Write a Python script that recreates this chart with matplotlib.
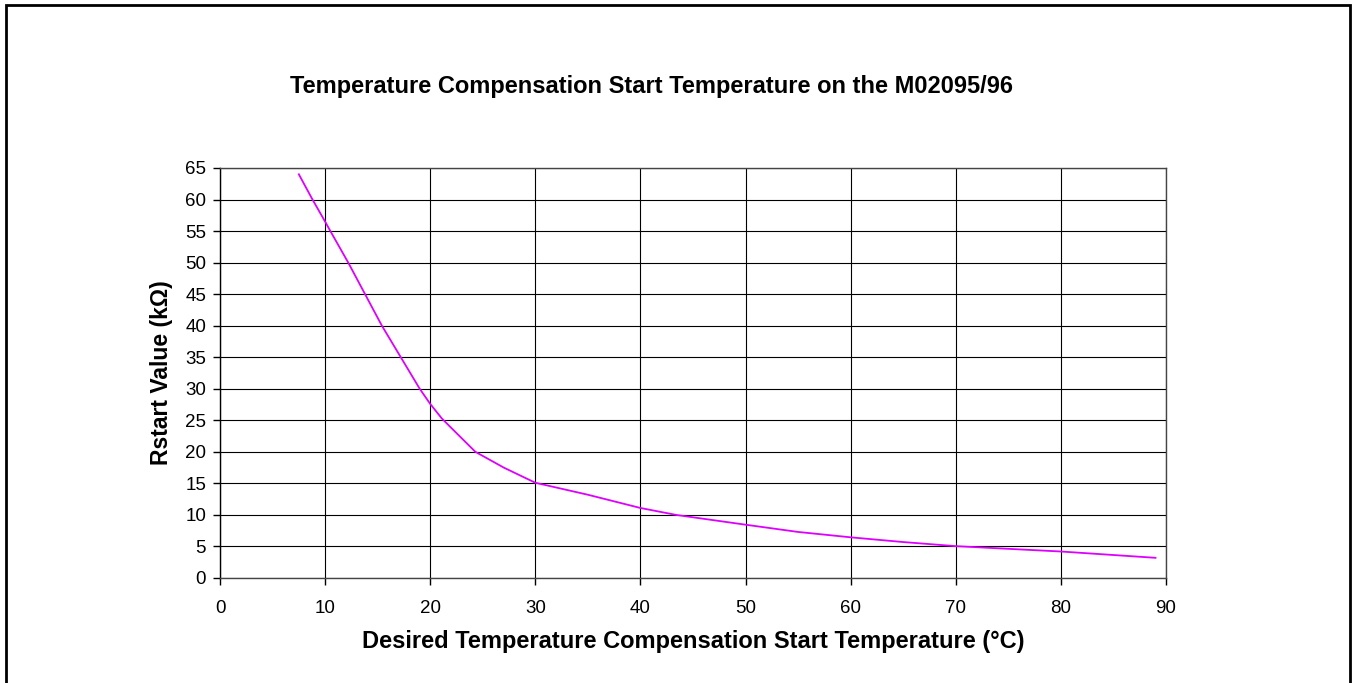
import numpy as np
import matplotlib
matplotlib.use("Agg")
import matplotlib.pyplot as plt
from matplotlib.patches import Rectangle

# data
temp_c = [7.5, 8.8, 10, 10.5, 12.2, 13.8, 15.4, 17.2, 19.0, 20, 21.1, 22, 24.3, 27,
          30, 35, 40, 43.4, 50, 55, 60, 65, 70, 80, 89]
rstart_k = [64, 60, 56.5, 55, 50, 45, 40, 35, 30, 27.6, 25.3, 23.8, 20, 17.5,
            15.1, 13.2, 11.1, 10, 8.45, 7.3, 6.45, 5.7, 5.05, 4.2, 3.2]

x_ticks = list(range(0, 91, 10))
y_ticks = list(range(0, 66, 5))

title = "Temperature Compensation Start Temperature on the M02095/96"
xlabel = "Desired Temperature Compensation Start Temperature (\u00b0C)"
ylabel = "Rstart Value (k\u03a9)"

plt.rcParams['font.family'] = ['Liberation Sans', 'DejaVu Sans']

W, H = 1352, 683
fig = plt.figure(figsize=(W / 100, H / 100), dpi=100)
ax = fig.add_axes([220 / W, 1 - 578 / H, (1166 - 220) / W, (578 - 168) / H])

ax.plot(temp_c, rstart_k, color='#dd00ff', lw=1.3, zorder=3)

ax.set_xlim(0, 90)
ax.set_ylim(0, 65)
ax.set_xticks(x_ticks)
ax.set_yticks(y_ticks)
ax.grid(True, color='black', lw=0.8)
ax.set_axisbelow(True)
for s in ax.spines.values():
    s.set_color('#444444')
    s.set_linewidth(1.0)
ax.spines['left'].set_color('black')
ax.tick_params(axis='both', direction='out', length=5, width=1, labelsize=13.5)
ax.tick_params(axis='x', pad=11)
ax.tick_params(axis='y', pad=5)

ax.set_xlabel(xlabel, fontsize=17, fontweight='bold', labelpad=9)
ax.set_ylabel(ylabel, fontsize=16.5, fontweight='bold', labelpad=9)

fig.text(651 / W, 1 - 87 / H, title, fontsize=17, fontweight='bold',
         ha='center', va='center')

# outer border around the chart area
fig.patches.append(Rectangle((6 / W, -0.1), (1350 - 6) / W, 1.1 - 5 / H,
                             transform=fig.transFigure, fill=False,
                             edgecolor='black', lw=2))

fig.savefig('out.png', dpi=100)
